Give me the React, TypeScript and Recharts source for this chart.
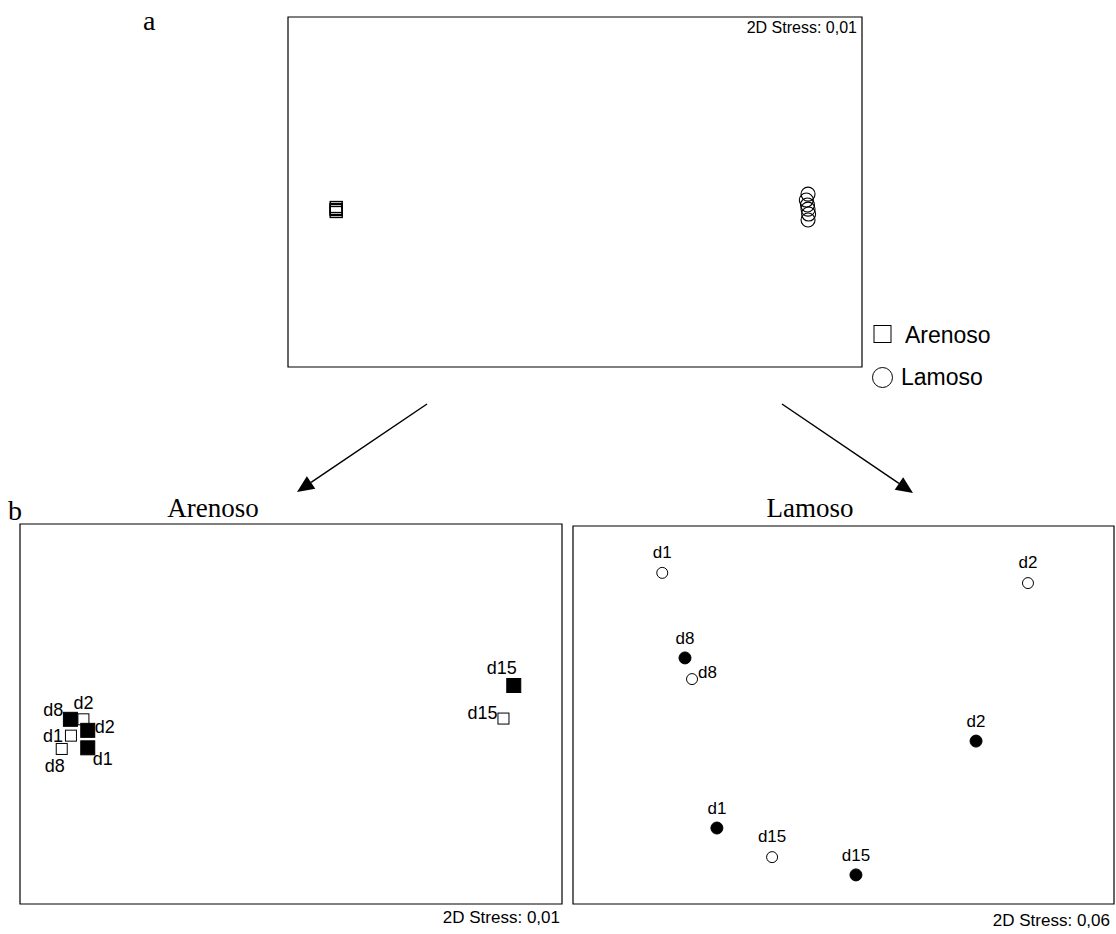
import React from "react";
import { ScatterChart, Scatter, XAxis, YAxis, ReferenceArea } from "recharts";

// (a) all samples, both sediments (MDS coordinates, rescaled 0-100)
const todosArenosoX = [8.4, 8.4, 8.4, 8.4];
const todosArenosoY = [45.7, 45.1, 44.9, 44.3];
const todosLamosoX = [90.6, 90.3, 90.5, 90.6, 90.7, 90.6];
const todosLamosoY = [49.4, 47.7, 46.3, 45.1, 43.7, 42.0];

// (b) Arenoso
const arenosoLabels = ["d8", "d2", "d2", "d1", "d8", "d1", "d15", "d15"];
const arenosoX = [9.3, 11.7, 12.5, 9.4, 7.7, 12.5, 91.1, 89.2];
const arenosoY = [48.6, 48.6, 45.7, 44.3, 40.8, 41.1, 57.5, 48.8];
const arenosoFilled = [true, false, true, false, false, true, true, false];

// (b) Lamoso
const lamosoLabels = ["d1", "d2", "d8", "d8", "d2", "d1", "d15", "d15"];
const lamosoX = [16.5, 84.1, 20.7, 22.0, 74.5, 26.6, 36.8, 52.3];
const lamosoY = [87.6, 84.9, 65.1, 59.5, 43.1, 20.1, 12.4, 7.7];
const lamosoFilled = [false, false, true, false, true, true, false, true];

const stressLabels = ["2D Stress: 0,01", "2D Stress: 0,01", "2D Stress: 0,06"];

// label nudges [anchor, dx, dy]
const arenosoNudge: [string, number, number][] = [
  ["end", -7, -3],
  ["middle", 0, -10],
  ["start", 7, 3],
  ["end", -8, 6],
  ["middle", -7, 23],
  ["start", 5, 17],
  ["middle", -12, -12],
  ["end", -6, 0],
];
const lamosoNudge: [string, number, number][] = [
  ["middle", 0, -15],
  ["middle", 0, -15],
  ["middle", 0, -14],
  ["start", 6, -1],
  ["middle", 0, -14],
  ["middle", 0, -14],
  ["middle", 0, -15],
  ["middle", 0, -14],
];

const SANS = "'Liberation Sans', Arial, sans-serif";
const SERIF = "'Liberation Serif', 'Times New Roman', serif";

const toPoints = (xs: number[], ys: number[], extra?: (i: number) => object) =>
  xs.map((x, i) => ({ x, y: ys[i], i, ...(extra ? extra(i) : {}) }));

function Panel({
  left,
  top,
  width,
  height,
  children,
}: {
  left: number;
  top: number;
  width: number;
  height: number;
  children: React.ReactNode;
}) {
  const m = 10;
  return (
    <div style={{ position: "absolute", left: left - m, top: top - m }}>
      <ScatterChart
        width={width + 2 * m}
        height={height + 2 * m}
        margin={{ top: m, right: m, bottom: m, left: m }}
      >
        <XAxis type="number" dataKey="x" domain={[0, 100]} hide />
        <YAxis type="number" dataKey="y" domain={[0, 100]} hide />
        <ReferenceArea
          x1={0}
          x2={100}
          y1={0}
          y2={100}
          fill="none"
          stroke="#000"
          strokeWidth={1.2}
          fillOpacity={0}
        />
        {children}
      </ScatterChart>
    </div>
  );
}

function Arrow({ x1, y1, x2, y2 }: { x1: number; y1: number; x2: number; y2: number }) {
  const a = Math.atan2(y2 - y1, x2 - x1);
  const L = 17;
  const W = 7.5;
  const bx = x2 - L * Math.cos(a);
  const by = y2 - L * Math.sin(a);
  const px = -Math.sin(a) * W;
  const py = Math.cos(a) * W;
  return (
    <g>
      <line x1={x1} y1={y1} x2={bx} y2={by} stroke="#000" strokeWidth={1.5} />
      <polygon points={`${x2},${y2} ${bx + px},${by + py} ${bx - px},${by - py}`} fill="#000" />
    </g>
  );
}

export default function App() {
  const topArenoso = toPoints(todosArenosoX, todosArenosoY);
  const topLamoso = toPoints(todosLamosoX, todosLamosoY);
  const arenoso = toPoints(arenosoX, arenosoY, (i) => ({
    label: arenosoLabels[i],
    filled: arenosoFilled[i],
  }));
  const lamoso = toPoints(lamosoX, lamosoY, (i) => ({
    label: lamosoLabels[i],
    filled: lamosoFilled[i],
  }));

  const squareShape = (p: any) => (
    <rect x={p.cx - 6} y={p.cy - 5.5} width={12} height={11} fill="none" stroke="#000" strokeWidth={1.4} />
  );
  const circleShape = (p: any) => (
    <circle cx={p.cx} cy={p.cy} r={7} fill="none" stroke="#000" strokeWidth={1.1} />
  );
  const arenosoShape = (p: any) => {
    const d = p.payload;
    const s = d.filled ? 14 : 11;
    const [anchor, dx, dy] = arenosoNudge[d.i];
    return (
      <g>
        <rect
          x={p.cx - s / 2}
          y={p.cy - s / 2}
          width={s}
          height={s}
          fill={d.filled ? "#000" : "#fff"}
          stroke="#000"
          strokeWidth={1}
        />
        <text x={p.cx + dx} y={p.cy + dy} textAnchor={anchor as any} fontFamily={SANS} fontSize={18} fill="#000">
          {d.label}
        </text>
      </g>
    );
  };
  const lamosoShape = (p: any) => {
    const d = p.payload;
    const [anchor, dx, dy] = lamosoNudge[d.i];
    return (
      <g>
        <circle cx={p.cx} cy={p.cy} r={d.filled ? 6 : 5.5} fill={d.filled ? "#000" : "#fff"} stroke="#000" strokeWidth={1} />
        <text x={p.cx + dx} y={p.cy + dy} textAnchor={anchor as any} fontFamily={SANS} fontSize={17} fill="#000">
          {d.label}
        </text>
      </g>
    );
  };

  return (
    <div style={{ position: "absolute", left: 0, top: 0, width: 1116, height: 934, background: "#fff" }}>
      <Panel left={288} top={17} width={574} height={350}>
        <Scatter data={topArenoso} shape={squareShape} isAnimationActive={false} />
        <Scatter data={topLamoso} shape={circleShape} isAnimationActive={false} />
      </Panel>
      <Panel left={20} top={524} width={542} height={380}>
        <Scatter data={arenoso} shape={arenosoShape} isAnimationActive={false} />
      </Panel>
      <Panel left={573} top={526} width={541} height={378}>
        <Scatter data={lamoso} shape={lamosoShape} isAnimationActive={false} />
      </Panel>
      <svg
        width={1116}
        height={934}
        style={{ position: "absolute", left: 0, top: 0, pointerEvents: "none" }}
      >
        <text x={143} y={30} fontFamily={SERIF} fontSize={28} fill="#000">a</text>
        <text x={8} y={520} fontFamily={SERIF} fontSize={28} fill="#000">b</text>
        <text x={213} y={517} textAnchor="middle" fontFamily={SERIF} fontSize={27} fill="#000">Arenoso</text>
        <text x={810} y={517} textAnchor="middle" fontFamily={SERIF} fontSize={27} fill="#000">Lamoso</text>
        <text x={857} y={33} textAnchor="end" fontFamily={SANS} fontSize={16} fill="#000">{stressLabels[0]}</text>
        <text x={560} y={923} textAnchor="end" fontFamily={SANS} fontSize={17} fill="#000">{stressLabels[1]}</text>
        <text x={1110} y={926} textAnchor="end" fontFamily={SANS} fontSize={17} fill="#000">{stressLabels[2]}</text>
        <Arrow x1={427} y1={404} x2={297} y2={492} />
        <Arrow x1={782} y1={404} x2={913} y2={493} />
        <rect x={874} y={325.5} width={17} height={17} fill="none" stroke="#000" strokeWidth={1} />
        <text x={905} y={343} fontFamily={SANS} fontSize={23} fill="#000">Arenoso</text>
        <circle cx={882.5} cy={377.5} r={10} fill="none" stroke="#000" strokeWidth={1} />
        <text x={901} y={385} fontFamily={SANS} fontSize={23} fill="#000">Lamoso</text>
      </svg>
    </div>
  );
}
